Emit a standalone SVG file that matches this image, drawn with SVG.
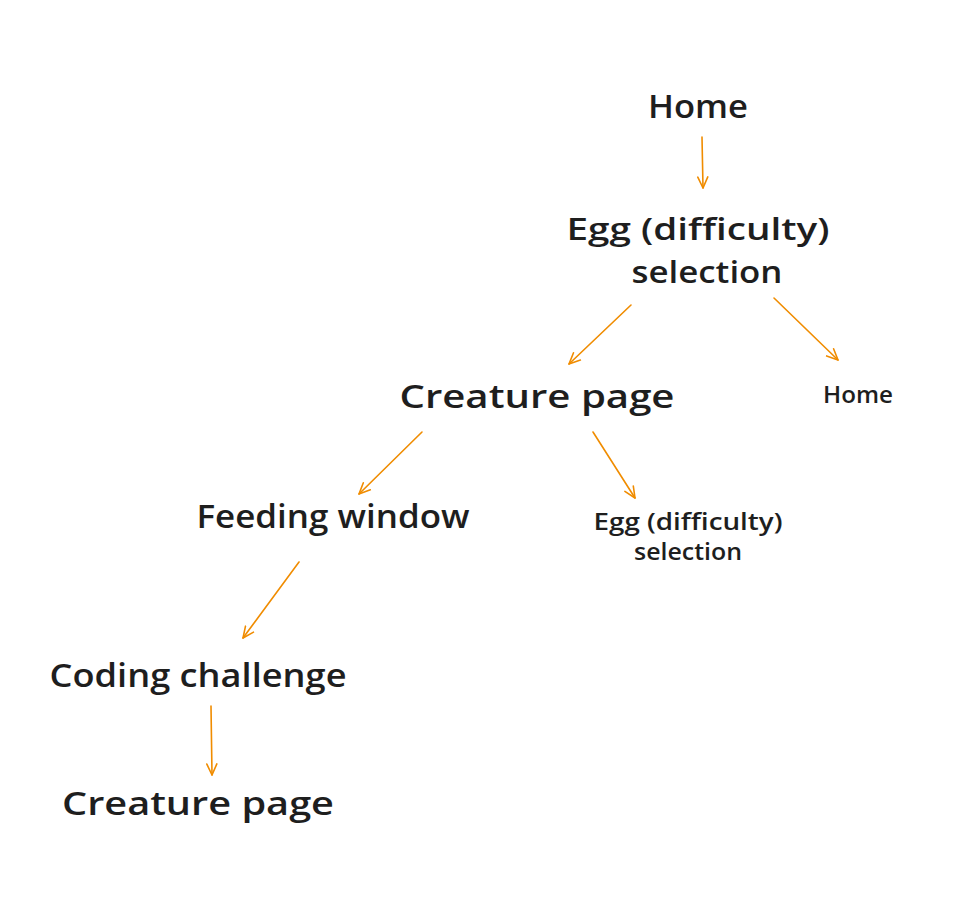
<svg xmlns="http://www.w3.org/2000/svg" width="966" height="920" viewBox="0 0 966 920">
<defs>
<style>
.t{font-family:"Open Sans","Liberation Sans",sans-serif;fill:#1e1e1e;text-anchor:middle;font-weight:600}
.big{font-size:33px}
.mid{font-size:31px}
.sm{font-size:23px}
.c{stroke:#f08c00;stroke-width:1.6;fill:none;stroke-linecap:round}
</style>
<marker id="ah" viewBox="-12 -8 14 16" markerWidth="14" markerHeight="16" refX="0" refY="0" orient="auto" markerUnits="userSpaceOnUse">
<path d="M-11,-5 L0,0 L-11,5" fill="none" stroke="#f08c00" stroke-width="1.6" stroke-linecap="round" stroke-linejoin="round"/>
</marker>
</defs>
<rect width="966" height="920" fill="#ffffff"/>
<g id="connectors">
<path class="c" d="M702,137 L703,188" marker-end="url(#ah)"/>
<path class="c" d="M631,305 L569,364" marker-end="url(#ah)"/>
<path class="c" d="M774,298 L838,360" marker-end="url(#ah)"/>
<path class="c" d="M422,432 L359,494" marker-end="url(#ah)"/>
<path class="c" d="M593,432 L635,498" marker-end="url(#ah)"/>
<path class="c" d="M299,562 L243,638" marker-end="url(#ah)"/>
<path class="c" d="M211,706 L212,775" marker-end="url(#ah)"/>
</g>
<g id="home-top"><text class="t big" x="698" y="118" textLength="100" lengthAdjust="spacingAndGlyphs">Home</text></g>
<g id="egg-selection"><text class="t mid" x="698" y="240" textLength="263" lengthAdjust="spacingAndGlyphs">Egg (difficulty)</text><text class="t mid" x="707" y="283" textLength="151" lengthAdjust="spacingAndGlyphs">selection</text></g>
<g id="creature-page"><text class="t big" x="537" y="408" textLength="275" lengthAdjust="spacingAndGlyphs">Creature page</text></g>
<g id="home-right"><text class="t sm" x="858" y="403" textLength="70" lengthAdjust="spacingAndGlyphs">Home</text></g>
<g id="feeding-window"><text class="t big" x="333" y="528" textLength="273" lengthAdjust="spacingAndGlyphs">Feeding window</text></g>
<g id="egg-selection-2"><text class="t sm" x="688" y="530" textLength="189" lengthAdjust="spacingAndGlyphs">Egg (difficulty)</text><text class="t sm" x="688" y="560" textLength="108" lengthAdjust="spacingAndGlyphs">selection</text></g>
<g id="coding-challenge"><text class="t big" x="198" y="687" textLength="297" lengthAdjust="spacingAndGlyphs">Coding challenge</text></g>
<g id="creature-page-2"><text class="t big" x="198" y="815" textLength="272" lengthAdjust="spacingAndGlyphs">Creature page</text></g>
</svg>
